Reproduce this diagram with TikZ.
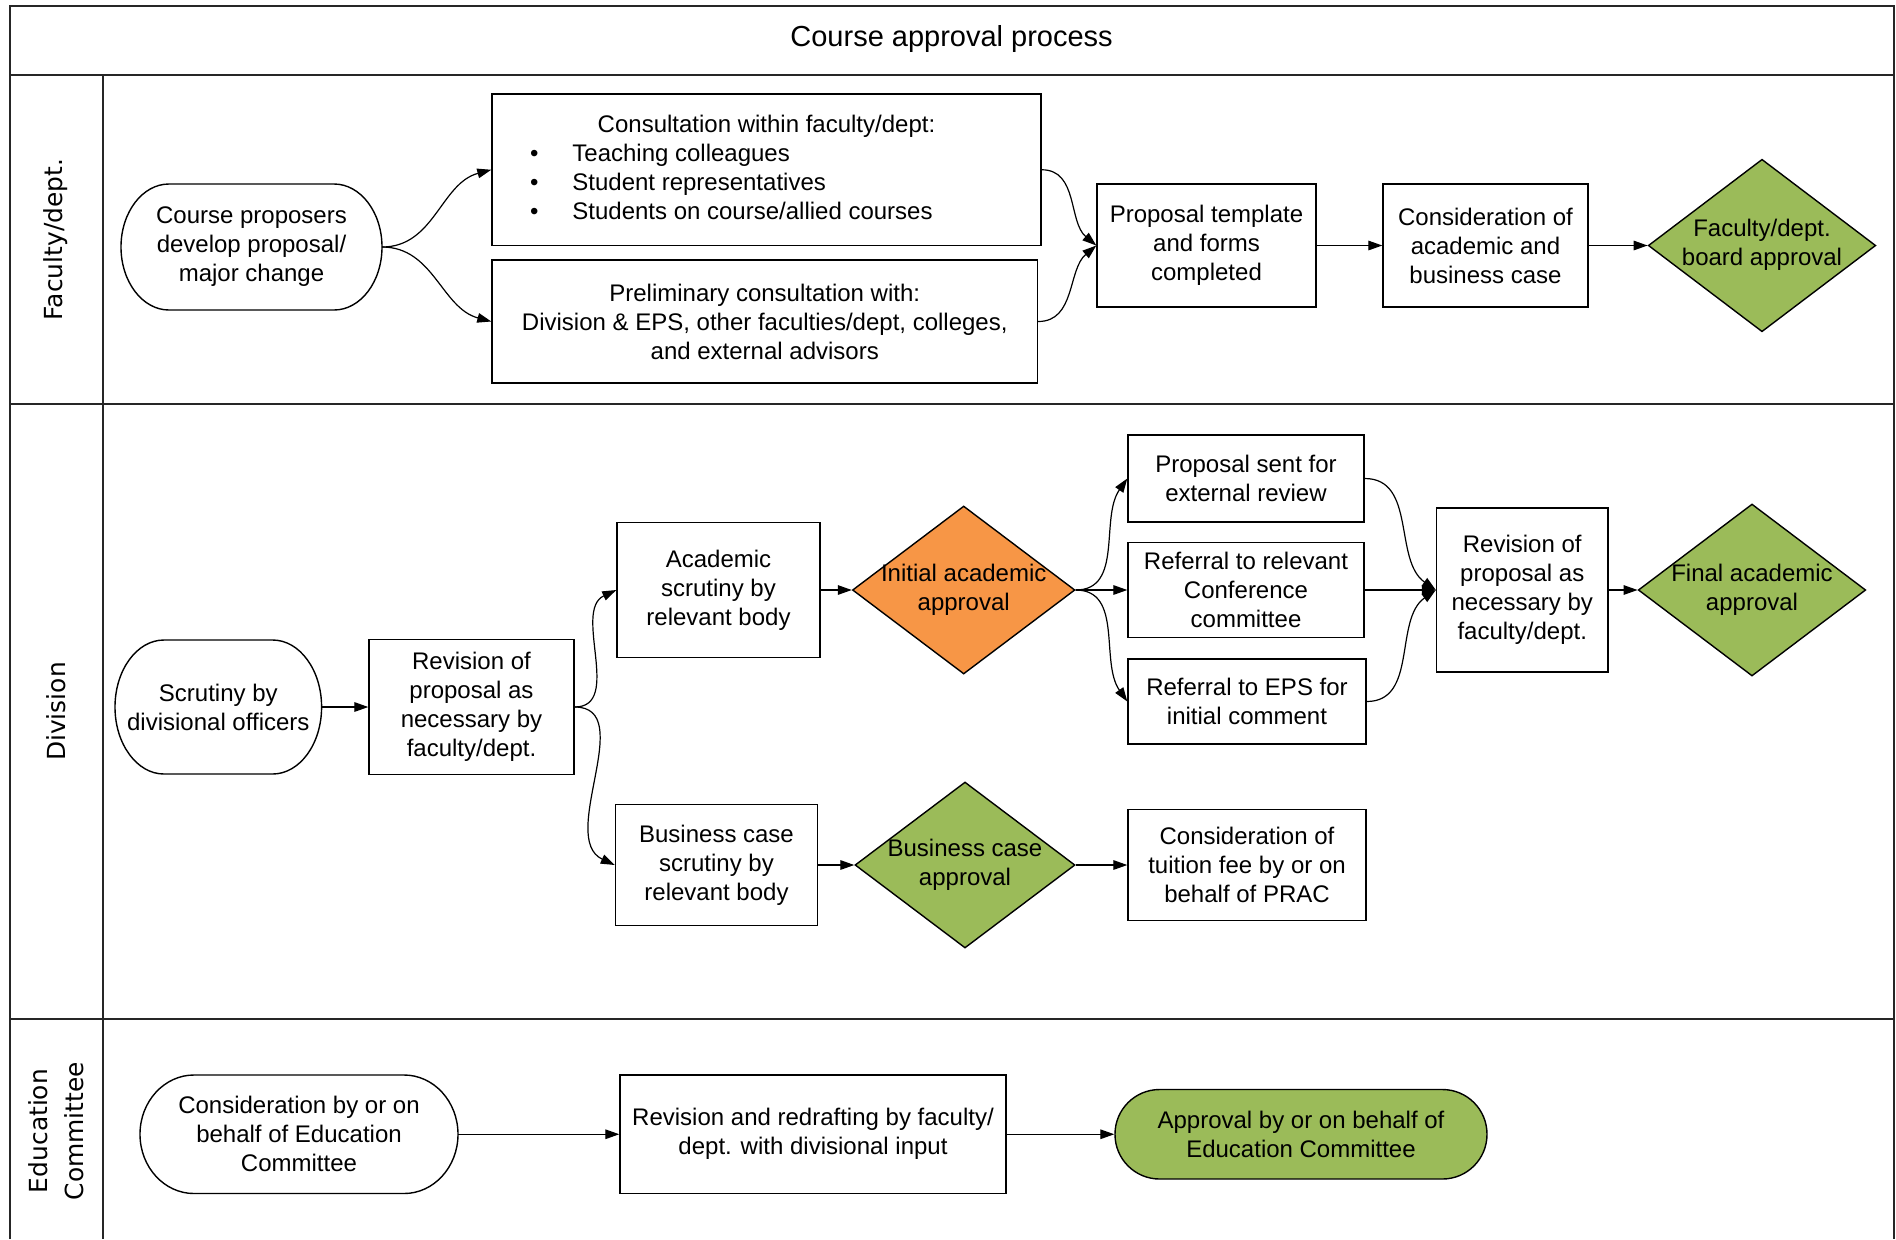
\documentclass[tikz,border=0pt]{standalone}
\usepackage{fontspec}
\setmainfont{Liberation Sans}
\newfontfamily\lanefont{DejaVu Sans}
\usetikzlibrary{arrows.meta,shapes.geometric}
\definecolor{vgreen}{HTML}{9BBB59}
\definecolor{vorange}{HTML}{F79646}
\newcommand\boxfont{\fontsize{12}{14.5}\selectfont}
\newcommand\dtxt[2]{\makebox[0pt]{\begin{tabular}{@{}c@{}}#1\\#2\end{tabular}}}
% elliptical-ended outline round a named node: #1 node, #2 x radius, #3 y radius (half height)
\newcommand\ellout[3]{\draw[line width=0.7pt] ([xshift=#2]#1.north west) -- ([xshift=-#2]#1.north east) arc[start angle=90,end angle=-90,x radius=#2,y radius=#3] -- ([xshift=#2]#1.south west) arc[start angle=270,end angle=90,x radius=#2,y radius=#3] -- cycle;}
\begin{document}
\begin{tikzpicture}[x=0.5pt,y=-0.5pt,
  frame/.style={draw=black!85,line width=1pt},
  box/.style={draw,line width=0.7pt,fill=white,align=center,font=\boxfont,inner sep=2pt},
  term/.style={align=center,font=\boxfont,inner sep=2pt,outer sep=0pt},
  dia/.style={diamond,draw,line width=0.7pt,inner sep=0pt,font=\boxfont},
  arr/.style={-{Triangle[length=7pt,width=4.8pt]},line width=0.6pt},
  lane/.style={font=\lanefont\fontsize{12.45}{18}\selectfont,rotate=90,align=center}]
\useasboundingbox[fill=white] (0,0) rectangle (1896,1239);
% frame
\draw[frame] (9.7,1239) -- (9.7,6) -- (1893.6,6) -- (1893.6,1239);
\draw[frame] (9.7,75) -- (1893.6,75);
\draw[frame] (9.7,404) -- (1893.6,404);
\draw[frame] (9.7,1019) -- (1893.6,1019);
\draw[draw=black!85,line width=0.75pt] (102.8,75) -- (102.8,1239);
\node[font=\fontsize{14.5}{17}\selectfont] (title) at (951.6,39) {Course approval process};
\node[lane] (lab1) at (56,239.5) {Faculty/dept.};
\node[lane] (lab2) at (56,711.5) {Division};
\node[lane] (lab3) at (56,1131) {Education\\Committee};
% lane 1
\node[term,minimum width=130.5pt,minimum height=63pt] (prop) at (251.5,247) {Course proposers\\develop proposal/\\major change};
\ellout{prop}{24pt}{31.5pt}
\node[box,minimum width=274.5pt,minimum height=75.75pt] (cons) at (766.5,169.75) {\begin{tabular}{@{}p{236.5pt}@{}}\multicolumn{1}{@{}c@{}}{Consultation within faculty/dept:}\\ \textbullet\hspace{17pt}Teaching colleagues\\ \textbullet\hspace{17pt}Student representatives\\ \textbullet\hspace{17pt}Students on course/allied courses\end{tabular}};
\node[box,minimum width=272.75pt,minimum height=61.5pt] (prel) at (764.75,321.5) {Preliminary consultation with:\\Division \& EPS, other faculties/dept, colleges,\\and external advisors};
\node[box,minimum width=109.5pt,minimum height=61.5pt] (tmpl) at (1206.5,245.5) {Proposal template\\and forms\\completed};
\node[box,minimum width=102.5pt,minimum height=61.5pt] (cacad) at (1485.5,245.5) {Consideration of\\academic and\\business case};
\node[dia,fill=vgreen,minimum width=113.75pt,minimum height=86.25pt] (fdb) at (1762,245.5) {\dtxt{Faculty/dept.}{board approval}};
\draw[arr] (prop.east) to[out=0,in=195] (cons.west);
\draw[arr] (prop.east) to[out=0,in=165] (prel.west);
\draw[arr] (cons.east) to[out=0,in=140] (tmpl.west);
\draw[arr] (prel.east) to[out=0,in=220] (tmpl.west);
\draw[arr] (tmpl.east) -- (cacad.west);
\draw[arr] (cacad.east) -- (fdb.west);
% lane 2
\node[term,minimum width=103.3pt,minimum height=67pt] (scr) at (218.3,707) {Scrutiny by\\divisional officers};
\ellout{scr}{24.5pt}{33.5pt}
\node[box,minimum width=102.5pt,minimum height=67.75pt] (rev1) at (471.5,707) {Revision of\\proposal as\\necessary by\\faculty/dept.};
\node[box,minimum width=101.5pt,minimum height=67.7pt] (acad) at (718.5,590) {Academic\\scrutiny by\\relevant body};
\node[dia,fill=vorange,minimum width=111.25pt,minimum height=84pt] (iaa) at (963.7,590) {\dtxt{Initial academic}{approval}};
\node[box,minimum width=118pt,minimum height=43.5pt] (ext) at (1246,478.5) {Proposal sent for\\external review};
\node[box,minimum width=118pt,minimum height=47.75pt] (conf) at (1246,590) {Referral to relevant\\Conference\\committee};
\node[box,minimum width=119pt,minimum height=42.5pt] (eps) at (1247,701.5) {Referral to EPS for\\initial comment};
\node[box,minimum width=85.75pt,minimum height=82pt] (rev2) at (1522.25,590) {Revision of\\proposal as\\necessary by\\faculty/dept.};
\node[dia,fill=vgreen,minimum width=113.75pt,minimum height=86pt] (faa) at (1752,590) {\dtxt{Final academic}{approval}};
\node[box,minimum width=101pt,minimum height=60.5pt] (bus) at (716.5,865) {Business case\\scrutiny by\\relevant body};
\node[dia,fill=vgreen,minimum width=110pt,minimum height=83pt] (bca) at (965,865) {\dtxt{Business case}{approval}};
\node[box,minimum width=119pt,minimum height=55.5pt] (tui) at (1247,865) {Consideration of\\tuition fee by or on\\behalf of PRAC};
\draw[arr] (scr.east) -- (rev1.west);
\draw[arr] (rev1.east) to[out=0,in=205] (acad.west);
\draw[arr] (rev1.east) to[out=0,in=155] (bus.west);
\draw[arr] (acad.east) -- (iaa.west);
\draw[arr] (iaa.east) to[out=0,in=235] (ext.west);
\draw[arr] (iaa.east) -- (conf.west);
\draw[arr] (iaa.east) to[out=0,in=125] (eps.west);
\draw[arr] (ext.east) to[out=0,in=145] (rev2.west);
\draw[arr] (conf.east) -- (rev2.west);
\draw[arr] (eps.east) to[out=0,in=215] (rev2.west);
\draw[arr] (rev2.east) -- (faa.west);
\draw[arr] (bus.east) -- (bca.west);
\draw[arr] (bca.east) -- (tui.west);
% lane 3
\node[term,minimum width=159pt,minimum height=59.25pt] (ced) at (299,1134.25) {Consideration by or on\\behalf of Education\\Committee};
\ellout{ced}{27pt}{29.625pt}
\node[box,minimum width=193pt,minimum height=59.25pt] (rrd) at (813,1134.25) {Revision and redrafting by faculty/\\dept. with divisional input};
\node[box,fill=vgreen,minimum width=186pt,minimum height=44.75pt,rounded corners=22.3pt] (appr) at (1301,1134.25) {Approval by or on behalf of\\Education Committee};
\draw[arr] (ced.east) -- (rrd.west);
\draw[arr] (rrd.east) -- (appr.west);
\end{tikzpicture}
\end{document}
